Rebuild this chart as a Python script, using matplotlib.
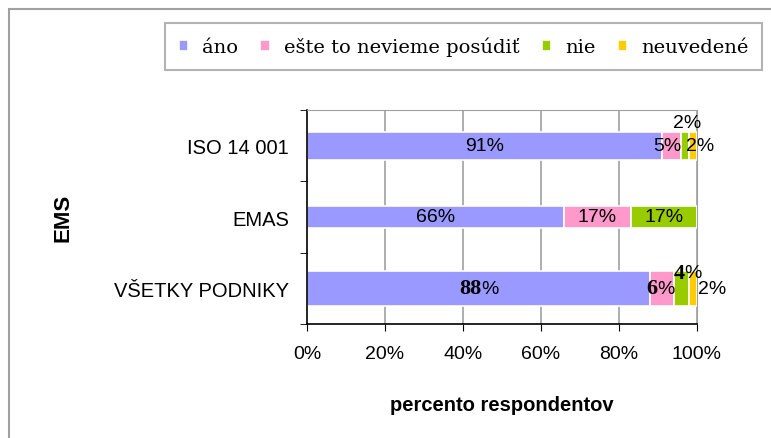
import numpy as np
from matplotlib import pyplot as plt
from matplotlib.patches import Rectangle

categories = ['VŠETKY PODNIKY', 'EMAS', 'ISO 14 001']
series = ['áno', 'ešte to nevieme posúdiť', 'nie', 'neuvedené']
values = {
    'áno': [88, 66, 91],
    'ešte to nevieme posúdiť': [6, 17, 5],
    'nie': [4, 17, 2],
    'neuvedené': [2, 0, 2],
}
colors = ['#9999FF', '#FF99CC', '#99CC00', '#FFCC00']
xticks = [0, 20, 40, 60, 80, 100]

sans = 'Liberation Sans'
serif = 'Liberation Serif'

fig = plt.figure(figsize=(7.71, 4.39), dpi=100)
ax = fig.add_axes([307 / 771, 1 - 325 / 439, 390 / 771, 214 / 439])

# outer chart frame (cut off at right and bottom)
fig.patches.append(Rectangle((9 / 771, -0.1), 1.2, 1.1 - 10 / 439, transform=fig.transFigure,
                             fill=False, edgecolor='#A0A0A0', linewidth=1.5, clip_on=False))

y = np.arange(len(categories))
heights = [0.5, 0.32, 0.39]
left = np.zeros(len(categories))
handles = []
for s, c in zip(series, colors):
    v = np.array(values[s], dtype=float)
    b = ax.barh(y, v, left=left, height=heights, color=c, edgecolor='white', linewidth=1.2)
    handles.append(b)
    left += v

ax.set_xlim(0, 100)
ax.set_ylim(-0.5, 2.5)
ax.set_xticks(xticks)
ax.set_xticklabels([f'{t}%' for t in xticks], fontfamily=sans, fontsize=14)
ax.set_yticks(y)
ax.set_yticklabels(categories, fontfamily=sans, fontsize=14.5)
ax.tick_params(axis='y', length=0, pad=13)
ax.set_yticks([-0.5, 0.5, 1.5, 2.5], minor=True)
ax.tick_params(axis='y', which='minor', length=5, direction='out')
ax.tick_params(axis='x', length=5, direction='out', pad=10)
for t in xticks[1:]:
    ax.axvline(t, color='#A0A0A0', linewidth=1.2, zorder=0)
ax.spines['top'].set_color('#A0A0A0')
ax.spines['right'].set_color('#A0A0A0')
ax.spines['left'].set_linewidth(1.2)
ax.spines['bottom'].set_linewidth(1.2)

ax.set_xlabel('percento respondentov', fontfamily=sans, fontsize=14.5, fontweight='bold', labelpad=24)
ax.set_ylabel('EMS', fontfamily=sans, fontsize=16, fontweight='bold')
ax.yaxis.set_label_coords(-0.6, 0.5)

lab = dict(fontfamily=sans, fontsize=14, va='center')
a, p, n, u = (np.array(values[s]) for s in series)

# ISO 14 001 (y=2)
ax.text(a[2] / 2, 2, f'{a[2]}%', ha='center', **lab)
ax.text(a[2] + p[2] / 2 - 1, 2, f'{p[2]}%', ha='center', **lab)
ax.text(a[2] + p[2] + n[2] / 2 + 0.5, 2.32, f'{n[2]}%', ha='center', **lab)
ax.text(a[2] + p[2] + n[2] - 0.8, 2, f'{u[2]}%', ha='left', **lab)

# EMAS (y=1)
ax.text(a[1] / 2, 1, f'{a[1]}%', ha='center', **lab)
ax.text(a[1] + p[1] / 2, 1, f'{p[1]}%', ha='center', **lab)
ax.text(a[1] + p[1] + n[1] / 2, 1, f'{n[1]}%', ha='center', **lab)

# VŠETKY PODNIKY (y=0): bold serif digits, plain percent sign
def mixed(x, yy, num):
    ax.text(x, yy, str(num), ha='right', fontfamily=serif, fontsize=16, fontweight='bold', va='center')
    ax.text(x, yy, '%', ha='left', **lab)

mixed(a[0] / 2 + 0.8, 0, a[0])
mixed(a[0] + p[0] / 2 - 1.2, 0, p[0])
mixed(a[0] + p[0] + n[0] / 2 + 0.8, 0.22, n[0])
ax.text(a[0] + p[0] + n[0] + u[0] + 0.3, 0, f'{u[0]}%', ha='left', **lab)

leg = fig.legend(handles, series, loc='upper left', bbox_to_anchor=(165 / 771, 1 - 24 / 439),
                 ncol=4, frameon=True, fancybox=False, edgecolor='#A0A0A0', borderaxespad=0,
                 prop={'family': 'DejaVu Serif', 'size': 14}, handlelength=0.5, handleheight=0.5,
                 handletextpad=0.7, columnspacing=1.15, borderpad=0.7)
leg.get_frame().set_linewidth(1.5)

fig.savefig('out.png', dpi=100)
